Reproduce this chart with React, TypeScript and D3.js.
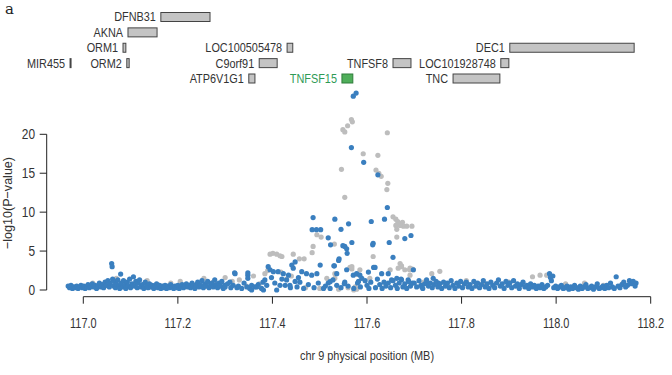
import React from "react";
import * as d3 from "d3";

// ---------- data ----------
const xTicks = [117.0, 117.2, 117.4, 117.6, 117.8, 118.0, 118.2];
const yTicks = [0, 5, 10, 15, 20];

const geneNames = ["DFNB31", "AKNA", "ORM1", "ORM2", "MIR455", "LOC100505478", "C9orf91", "ATP6V1G1", "TNFSF15", "TNFSF8", "LOC101928748", "DEC1", "TNC"];
const geneStarts = [117.164, 117.0945, 117.084, 117.092, 116.972, 117.431, 117.372, 117.350, 117.547, 117.655, 117.883, 117.902, 117.782];
const geneEnds = [117.268, 117.156, 117.090, 117.097, 116.973, 117.443, 117.410, 117.363, 117.570, 117.693, 117.900, 118.165, 117.881];
const geneRows = [0, 1, 2, 3, 3, 2, 3, 4, 4, 3, 3, 2, 4];
const highlightGene = "TNFSF15";

// gray SNPs [position MB, -log10 p]
const graySnps: [number, number][] = [
  [117.567, 21.9], [117.569, 21.6], [117.559, 21.1], [117.549, 20.6], [117.553, 20.3], [117.643, 20.2],
  [117.592, 17.5], [117.623, 17.3], [117.546, 15.5], [117.619, 15.4], [117.625, 15.0], [117.630, 14.6],
  [117.644, 13.7], [117.642, 12.9], [117.553, 11.9],
  [117.655, 9.4], [117.661, 9.1], [117.665, 8.8], [117.675, 8.7], [117.677, 8.2], [117.684, 8.2],
  [117.695, 8.2], [117.661, 8.3], [117.663, 7.8], [117.670, 8.3],
  [117.494, 7.1], [117.503, 6.8], [117.486, 5.6], [117.484, 4.8], [117.531, 5.9], [117.663, 6.8],
  [117.395, 4.6], [117.401, 4.7], [117.409, 4.6], [117.416, 4.4], [117.420, 4.3], [117.444, 4.6],
  [117.457, 4.0], [117.467, 4.0],
  [117.613, 4.3], [117.670, 3.4], [117.673, 3.1], [117.696, 2.7], [117.690, 2.6], [117.564, 2.9],
  [117.568, 2.7], [117.754, 2.4], [117.585, 2.6], [117.580, 2.0], [117.575, 0.4], [117.578, 0.1],
  [117.572, 0.0], [117.384, 2.1], [117.390, 2.5],
  [117.673, 3.0], [117.666, 2.8], [117.691, 2.8], [117.680, 2.6], [117.698, 2.6], [117.568, 3.0],
  [117.532, 2.1], [117.532, 1.5], [117.606, 1.5], [117.691, 1.9], [117.737, 2.1], [117.649, 2.6],
  [117.020, 0.9], [117.045, 0.5], [117.070, 1.5], [117.088, 1.0], [117.110, 0.8], [117.135, 1.2],
  [117.160, 0.6], [117.185, 0.9], [117.205, 1.1], [117.230, 0.6], [117.255, 1.5], [117.275, 1.0],
  [117.300, 1.6], [117.315, 1.1], [117.330, 1.3], [117.345, 0.5], [117.360, 1.8], [117.372, 0.8],
  [117.430, 1.4], [117.470, 0.3], [117.500, 0.2], [117.515, 1.5], [117.540, 0.1], [117.560, 0.3],
  [117.720, 1.0], [117.770, 0.6], [117.810, 1.2], [117.850, 0.8], [117.900, 1.0], [117.950, 1.7],
  [117.966, 1.9], [117.980, 1.9], [118.020, 0.8], [118.060, 0.9], [118.100, 0.6], [118.140, 0.8],
  [117.418, 2.3], [117.440, 1.8],
];

// blue SNPs [position MB, -log10 p]
const blueSnps: [number, number][] = [
  // left band
  [116.968, 0.5], [116.971, 0.3], [116.974, 0.6], [116.977, 0.2], [116.980, 0.4], [116.983, 0.3],
  [116.986, 0.5], [116.989, 0.2], [116.992, 0.4], [116.995, 0.6], [116.998, 0.3], [117.001, 0.5],
  [117.004, 0.2], [117.007, 0.4], [117.010, 0.7], [117.013, 0.3], [117.016, 0.5], [117.019, 0.8],
  [117.022, 0.4], [117.025, 0.6], [117.028, 0.2], [117.031, 0.5], [117.034, 0.9], [117.037, 0.4],
  [117.040, 0.7], [117.043, 0.3], [117.046, 1.0], [117.049, 0.6],
  [117.052, 1.2], [117.055, 0.4], [117.057, 0.9], [117.060, 3.4], [117.061, 3.0], [117.062, 1.4],
  [117.064, 0.5], [117.066, 1.1], [117.068, 0.3], [117.070, 0.8], [117.073, 1.3], [117.075, 0.5],
  [117.077, 0.2], [117.079, 2.05], [117.080, 0.9], [117.083, 0.4], [117.085, 1.2], [117.088, 0.6],
  [117.090, 0.2], [117.093, 1.0], [117.095, 0.5], [117.098, 1.4], [117.100, 0.3], [117.103, 0.8],
  [117.106, 1.7], [117.108, 0.5], [117.111, 1.1], [117.114, 0.3], [117.116, 0.9], [117.119, 1.3],
  [117.122, 0.4], [117.125, 0.7], [117.128, 0.2], [117.131, 1.0], [117.134, 0.5], [117.137, 0.3],
  [117.140, 0.8], [117.143, 0.4], [117.146, 0.6], [117.149, 0.2], [117.152, 0.5], [117.155, 0.8],
  [117.158, 0.3], [117.161, 0.6], [117.164, 0.2], [117.167, 0.5],
  [117.170, 0.3], [117.173, 0.6], [117.176, 0.2], [117.179, 0.5], [117.182, 0.3], [117.185, 0.7],
  [117.188, 0.4], [117.191, 0.2], [117.194, 0.5], [117.197, 0.3], [117.200, 0.6], [117.203, 0.2],
  [117.206, 0.4], [117.209, 0.7], [117.212, 0.3], [117.215, 0.5], [117.218, 0.8], [117.221, 0.4],
  [117.224, 0.6], [117.227, 0.3], [117.230, 0.9], [117.233, 0.5], [117.236, 0.2], [117.239, 0.7],
  [117.242, 1.0], [117.245, 0.4], [117.248, 0.6], [117.251, 1.2], [117.254, 0.3], [117.257, 0.8],
  [117.260, 0.5], [117.263, 1.1], [117.266, 0.3], [117.269, 0.6], [117.272, 0.9], [117.275, 0.4],
  [117.278, 1.3], [117.281, 0.7], [117.284, 0.3], [117.287, 0.9], [117.290, 0.5], [117.293, 1.1],
  [117.296, 0.2], [117.299, 0.6],
  // rising region
  [117.321, 2.1], [117.348, 1.9], [117.320, 2.2], [117.348, 2.2], [117.310, 1.0], [117.317, 0.6],
  [117.325, 0.3], [117.348, 1.5], [117.300, 0.4], [117.305, 0.8], [117.312, 0.3], [117.328, 0.5],
  [117.340, 0.9], [117.352, 0.2], [117.370, 0.7], [117.380, 1.0], [117.398, 1.6], [117.405, 0.9],
  [117.420, 1.4], [117.438, 0.3], [117.455, 1.6], [117.335, 0.2], [117.346, 0.4], [117.356, 0.6],
  [117.367, 0.4], [117.381, 0.0],
  [117.391, 3.0], [117.395, 2.6], [117.402, 2.35], [117.412, 2.35], [117.423, 2.1], [117.434, 1.9],
  [117.444, 2.8], [117.430, 1.3], [117.416, 0.6], [117.409, 0.0], [117.384, 1.3], [117.388, 0.6],
  [117.377, 0.2], [117.363, 0.4], [117.356, 0.0], [117.427, 0.6], [117.437, 0.6], [117.448, 1.1],
  [117.462, 2.35], [117.472, 2.1], [117.483, 1.9], [117.501, 3.2], [117.494, 2.1], [117.508, 0.2],
  [117.518, 0.9], [117.536, 0.6],
  // peak region
  [117.571, 24.9], [117.577, 25.3], [117.567, 18.3], [117.593, 16.4], [117.623, 14.8], [117.643, 10.6],
  [117.486, 9.3], [117.532, 9.1], [117.561, 8.5], [117.609, 8.8], [117.637, 9.1], [117.484, 7.75],
  [117.493, 7.75], [117.502, 7.75], [117.545, 7.8], [117.518, 6.7], [117.523, 5.8], [117.549, 5.7],
  [117.553, 5.6], [117.557, 5.3], [117.568, 6.1], [117.558, 4.7], [117.613, 6.0], [117.612, 5.8],
  [117.647, 6.1], [117.680, 6.6], [117.693, 7.0], [117.655, 4.2], [117.614, 2.9], [117.531, 3.1],
  [117.540, 3.8], [117.441, 3.2], [117.448, 3.6],
  [117.541, 4.0], [117.530, 3.1], [117.557, 2.6], [117.536, 2.1], [117.522, 1.07], [117.553, 1.0],
  [117.571, 1.9], [117.578, 2.1], [117.585, 1.9], [117.589, 1.5], [117.582, 1.1], [117.603, 2.3],
  [117.617, 2.9], [117.631, 2.1], [117.645, 2.1], [117.652, 1.3], [117.663, 1.5], [117.673, 1.3],
  [117.687, 1.3], [117.698, 2.6], [117.716, 0.4], [117.726, 0.9], [117.740, 1.5], [117.751, 0.9],
  [117.452, 0.4], [117.458, 1.0], [117.466, 0.2], [117.476, 0.7], [117.488, 0.3], [117.497, 0.9],
  [117.512, 0.5], [117.522, 0.2], [117.528, 1.3], [117.545, 0.3], [117.552, 0.8],
  [117.560, 0.5], [117.572, 0.2], [117.580, 0.9], [117.586, 0.4], [117.596, 1.2],
  [117.600, 0.6], [117.604, 0.2], [117.608, 1.0], [117.618, 0.3], [117.622, 1.4], [117.627, 0.7],
  [117.632, 0.2], [117.636, 1.0], [117.640, 0.5], [117.645, 0.9], [117.650, 0.3], [117.655, 1.2],
  [117.660, 0.6], [117.664, 0.2], [117.668, 0.9], [117.672, 1.4], [117.676, 0.4], [117.680, 0.8],
  [117.684, 0.2], [117.688, 1.1], [117.692, 0.5], [117.696, 0.9],
  // right band
  [117.700, 0.9], [117.705, 0.4], [117.710, 1.2], [117.714, 0.6], [117.718, 0.2], [117.722, 0.8],
  [117.726, 1.3], [117.730, 0.5], [117.734, 0.9], [117.738, 0.3], [117.742, 0.7], [117.746, 1.1],
  [117.750, 0.4], [117.754, 0.8], [117.758, 0.2], [117.762, 1.0], [117.766, 0.5], [117.770, 0.9],
  [117.774, 0.3], [117.778, 1.2], [117.782, 0.6], [117.786, 0.2], [117.790, 0.9], [117.794, 0.5],
  [117.798, 1.1], [117.802, 0.3], [117.806, 0.8], [117.810, 1.0], [117.814, 0.4], [117.818, 0.7],
  [117.822, 0.2], [117.826, 1.1], [117.830, 0.5], [117.834, 0.9], [117.838, 0.3], [117.842, 0.7],
  [117.846, 1.2], [117.850, 0.4], [117.854, 0.8], [117.858, 0.2], [117.862, 1.0], [117.866, 0.6],
  [117.870, 0.3], [117.874, 0.9], [117.878, 1.3], [117.882, 0.5], [117.886, 0.8], [117.890, 0.2],
  [117.894, 1.1], [117.898, 0.6], [117.902, 0.9], [117.906, 0.3], [117.910, 1.2], [117.914, 0.5],
  [117.918, 0.8], [117.922, 0.2], [117.926, 0.7], [117.930, 1.0], [117.934, 0.4], [117.938, 0.6],
  [117.942, 0.2], [117.946, 0.8], [117.950, 0.4], [117.954, 0.6], [117.958, 0.2], [117.962, 0.5],
  [117.966, 0.3], [117.970, 0.7], [117.974, 0.2], [117.978, 0.4], [117.982, 0.6], [117.986, 2.1],
  [117.988, 1.6], [117.990, 1.2], [117.993, 1.8], [117.995, 0.3], [117.999, 0.5], [118.003, 0.2],
  [118.007, 0.4], [118.011, 0.6], [118.015, 0.2], [118.019, 0.3], [118.023, 0.5], [118.027, 0.1],
  [118.031, 0.4], [118.035, 0.2], [118.039, 0.6], [118.043, 0.3], [118.047, 0.1], [118.051, 0.5],
  [118.055, 0.2], [118.059, 0.4], [118.063, 0.7], [118.067, 0.2], [118.071, 0.3], [118.075, 0.5],
  [118.079, 0.1], [118.083, 0.4], [118.087, 0.8], [118.091, 0.2], [118.095, 0.3], [118.099, 0.5],
  [118.103, 0.2], [118.107, 0.6], [118.111, 0.3], [118.115, 0.9], [118.119, 0.4], [118.123, 0.2],
  [118.127, 1.7], [118.131, 0.5], [118.135, 0.3], [118.139, 0.7], [118.143, 1.0], [118.147, 0.4],
  [118.151, 0.6], [118.155, 1.2], [118.159, 0.8], [118.163, 1.1], [118.167, 0.5], [118.169, 0.9],
];

// ---------- layout ----------
const W = 672;
const H = 375;
const FONT = "'Liberation Sans', Arial, sans-serif";
const BLUE = "#3a7fbf";
const GRAY = "#bdbdbd";
const TEXT = "#333";

type NTProps = {
  x: number; y: number; size: number; anchor?: "start" | "middle" | "end";
  fill?: string; sx?: number; rotate?: number; dy?: string; children: React.ReactNode;
};

// condensed text: horizontally squeezed like the reference's narrow font
function NText({ x, y, size, anchor = "start", fill = TEXT, sx = 0.86, rotate = 0, dy, children }: NTProps) {
  return (
    <text transform={`translate(${x},${y}) rotate(${rotate}) scale(${sx},1)`} textAnchor={anchor}
      fontSize={size} fill={fill} dy={dy} fontFamily={FONT}>{children}</text>
  );
}

export default function App() {
  const x = d3.scaleLinear().domain([117.0, 118.2]).range([83.3, 650.7]);
  const y = d3.scaleLinear().domain([0, 20]).range([290, 134.3]);
  const rowY = d3.scaleLinear().domain([0, 4]).range([17, 78.5]);
  const axisY = 296.7;
  const axisX = 46.7;
  const fmt = d3.format(".1f");

  return (
    <svg width={W} height={H} style={{ position: "absolute", left: 0, top: 0, background: "#fff" }} fontFamily={FONT}>
      <rect width={W} height={H} fill="#fff" />
      <text x={5} y={14} fontFamily="'DejaVu Serif', 'Liberation Serif', serif" fontSize={15} fill="#222">a</text>

      {/* genes */}
      {geneNames.map((name, i) => {
        const x0 = x(geneStarts[i]);
        const x1 = x(geneEnds[i]);
        const cy = rowY(geneRows[i]);
        const hl = name === highlightGene;
        return (
          <g key={name}>
            <rect x={x0} y={cy - 4.5} width={Math.max(1, x1 - x0)} height={9}
              fill={hl ? "#4fae5a" : "#c4c4c4"} stroke={hl ? "#2f7d3a" : "#444"} strokeWidth={1} />
            <NText x={x0 - 5} y={cy} dy="0.35em" anchor="end" size={12.5} sx={0.87}
              fill={hl ? "#2f9a55" : TEXT}>{name}</NText>
          </g>
        );
      })}

      {/* points */}
      {graySnps.map((d, i) => (
        <circle key={"g" + i} cx={x(d[0])} cy={y(d[1])} r={2.6} fill={GRAY} />
      ))}
      {blueSnps.map((d, i) => (
        <circle key={"b" + i} cx={x(d[0])} cy={y(d[1])} r={2.6} fill={BLUE} />
      ))}

      {/* x axis */}
      <line x1={x(xTicks[0])} x2={x(xTicks[xTicks.length - 1])} y1={axisY} y2={axisY} stroke="#222" strokeWidth={1} />
      {xTicks.map((t) => (
        <g key={t}>
          <line x1={x(t)} x2={x(t)} y1={axisY} y2={axisY + 7} stroke="#222" />
          <NText x={x(t)} y={328} anchor="middle" size={14} sx={0.78}>{fmt(t)}</NText>
        </g>
      ))}
      <NText x={(x(117.0) + x(118.2)) / 2} y={360} anchor="middle" size={13} sx={0.84}>chr 9 physical position (MB)</NText>

      {/* y axis */}
      <line x1={axisX} x2={axisX} y1={y(0)} y2={y(20)} stroke="#222" />
      {yTicks.map((t) => (
        <g key={t}>
          <line x1={axisX - 7} x2={axisX} y1={y(t)} y2={y(t)} stroke="#222" />
          <NText x={35} y={y(t)} dy="0.35em" anchor="end" size={14.5} sx={0.82}>{t}</NText>
        </g>
      ))}
      <NText x={12} y={203} rotate={-90} anchor="middle" size={13.5} sx={0.93}>−log10(P−value)</NText>
    </svg>
  );
}
